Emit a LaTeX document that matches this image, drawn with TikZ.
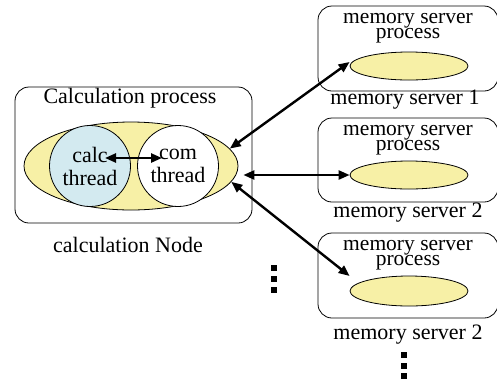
\documentclass[tikz,border=0pt]{standalone}
\usepackage{fontspec}
\setmainfont{Liberation Serif}
\usepackage{tikz}
\usetikzlibrary{calc,arrows.meta}
\definecolor{procyellow}{HTML}{F7F0A6}
\definecolor{calcblue}{HTML}{D3EAF0}
\tikzset{
  box/.style={draw=black, line width=0.8pt, rounded corners=14pt, inner sep=0pt},
  proc/.style={draw=black, line width=0.8pt, ellipse, fill=procyellow, inner sep=0pt},
  thr/.style={draw=black, line width=0.8pt, circle, inner sep=0pt, minimum size=81pt,
    align=center, font=\fontsize{22}{23}\selectfont},
  lab/.style={font=\fontsize{22}{22}\selectfont, inner sep=0pt},
  boxlab/.style={font=\fontsize{21.5}{15}\selectfont, align=center, inner sep=0pt},
  link/.style={line width=2.4pt, {Triangle[length=11pt,width=9pt]}-{Triangle[length=11pt,width=9pt]}},
  dot/.style={fill=black, minimum size=6pt, inner sep=0pt},
}
\usetikzlibrary{shapes.geometric}

\begin{document}
\begin{tikzpicture}[x=1pt, y=-1pt]
\useasboundingbox (0,0) rectangle (497,381);
% calculation node
\node[box, minimum width=237pt, minimum height=136pt] (cnode) at (133.5,155) {};
\node[lab] (cproc) at (130,98) {Calculation process};
\node[proc, minimum width=214pt, minimum height=88pt] (mainell) at (131,166) {};
\node[thr, fill=calcblue] (calc) at (90,166) {calc\\thread};
\node[thr, fill=white] (com) at (178,166) {com\\thread};
\node[lab] (cname) at (128,245) {calculation Node};
\draw[link] ([xshift=15pt,yshift=8pt]calc.center) -- ([xshift=-16pt,yshift=8pt]com.center);

% memory server 1
\node[box, minimum width=180pt, minimum height=85pt] (ms1) at (408,48.5) {};
\node[boxlab] (ms1t) at (408,28) {memory server\\process};
\node[proc, minimum width=118pt, minimum height=28pt] (ms1e) at (409,66) {};
\node[lab] (ms1n) at (405,100) {memory server 1};

% memory server 2
\node[box, minimum width=180pt, minimum height=84pt] (ms2) at (408,160) {};
\node[boxlab] (ms2t) at (408,140) {memory server\\process};
\node[proc, minimum width=118pt, minimum height=28pt] (ms2e) at (409,175) {};
\node[lab] (ms2n) at (408,213) {memory server 2};

% memory server 3
\node[box, minimum width=180pt, minimum height=85pt] (ms3) at (408,275.5) {};
\node[boxlab] (ms3t) at (408,255) {memory server\\process};
\node[proc, minimum width=118pt, minimum height=30pt] (ms3e) at (409,291) {};
\node[lab] (ms3n) at (408,335) {memory server 2};

% links
\draw[link] (mainell.10) -- ([yshift=4pt]ms1e.west);
\draw[link] (ms2e.west -| mainell.east) ++(5,0) coordinate (p2) (p2) -- (ms2e.west);
\draw[link] (mainell.-9) -- ([yshift=15pt]ms3e.west);

% dots
\foreach \y in {268,279,290} \node[dot] (ldot\y) at (274,\y) {};
\foreach \y in {355,366,376} \node[dot] (bdot\y) at (404,\y) {};
\end{tikzpicture}
\end{document}
